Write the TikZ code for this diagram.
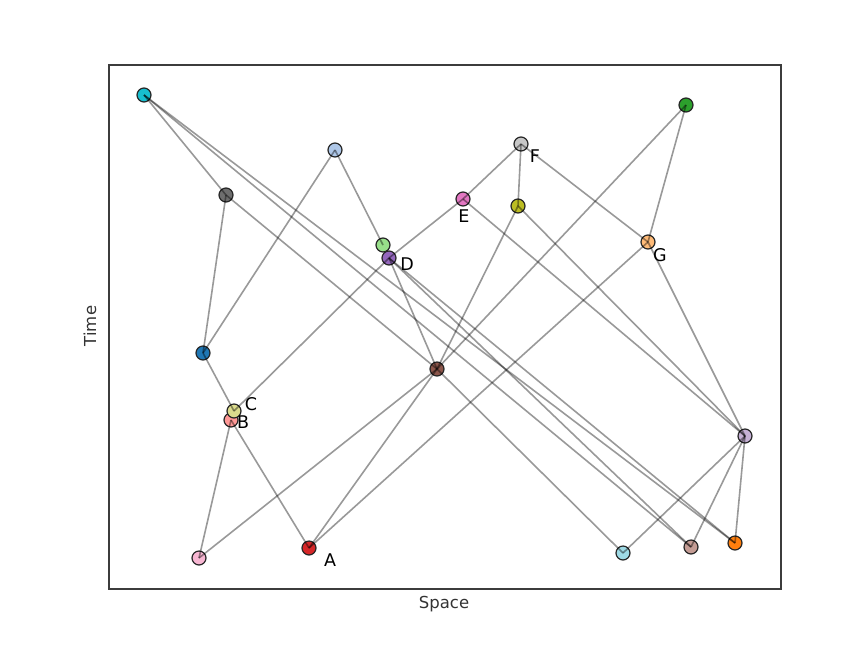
\documentclass[tikz,border=0pt]{standalone}
\usepackage{fontspec}
\setmainfont{DejaVu Sans}
\begin{document}
\begin{tikzpicture}[x=1pt,y=-1pt,
  pt/.style={circle,draw=black!85,line width=1.2pt,minimum size=14pt,inner sep=0pt},
  edge/.style={draw=black,draw opacity=0.4,line width=1.6pt},
  lab/.style={font=\fontsize{17.5}{19}\selectfont,inner sep=0pt}]
\useasboundingbox (0,0) rectangle (867,654);
\definecolor{tBlue}{HTML}{1F77B4}\definecolor{tLBlue}{HTML}{AEC7E8}
\definecolor{tOrange}{HTML}{FF7F0E}\definecolor{tLOrange}{HTML}{FFBB78}
\definecolor{tGreen}{HTML}{2CA02C}\definecolor{tLGreen}{HTML}{98DF8A}
\definecolor{tRed}{HTML}{D62728}\definecolor{tLRed}{HTML}{FF9896}
\definecolor{tPurple}{HTML}{9467BD}\definecolor{tLPurple}{HTML}{C5B0D5}
\definecolor{tBrown}{HTML}{8C564B}\definecolor{tLBrown}{HTML}{C49C94}
\definecolor{tPink}{HTML}{E377C2}\definecolor{tLPink}{HTML}{F7B6D2}
\definecolor{tGray}{HTML}{6E6E6E}\definecolor{tLGray}{HTML}{C7C7C7}
\definecolor{tOlive}{HTML}{BCBD22}\definecolor{tLOlive}{HTML}{DBDB8D}
\definecolor{tCyan}{HTML}{17BECF}\definecolor{tLCyan}{HTML}{9EDAE5}
\definecolor{frameC}{HTML}{3C3C3C}
\draw[frameC,line width=1.4pt] (109,65) rectangle (781,589);
% nodes
\node[pt,fill=tCyan] (cyan) at (144,95) {};
\node[pt,fill=tGray] (gray) at (226,195) {};
\node[pt,fill=tLBlue] (lblue) at (335,150) {};
\node[pt,fill=tLGreen] (lgreen) at (383,245) {};
\node[pt,fill=tPurple] (D) at (389,258) {};
\node[pt,fill=tPink] (E) at (463,199) {};
\node[pt,fill=tLGray] (F) at (521,144) {};
\node[pt,fill=tOlive] (olive) at (518,206) {};
\node[pt,fill=tGreen] (green) at (686,105) {};
\node[pt,fill=tLOrange] (G) at (648,242) {};
\node[pt,fill=tBlue] (blue) at (203,353) {};
\node[pt,fill=tLRed] (B) at (231,420) {};
\node[pt,fill=tLOlive] (C) at (234,411) {};
\node[pt,fill=tBrown] (brown) at (437,369) {};
\node[pt,fill=tLPink] (lpink) at (199,558) {};
\node[pt,fill=tRed] (A) at (309,548) {};
\node[pt,fill=tLCyan] (lcyan) at (623,553) {};
\node[pt,fill=tLBrown] (lbrown) at (691,547) {};
\node[pt,fill=tOrange] (orange) at (735,543) {};
\node[pt,fill=tLPurple] (lpurple) at (745,436) {};
% edges
\foreach \a/\b in {cyan/gray,cyan/orange,cyan/lbrown,gray/blue,gray/brown,
  lblue/blue,lblue/lgreen,blue/C,C/D,D/E,D/brown,D/lbrown,D/orange,E/F,E/lpurple,
  F/olive,F/G,olive/brown,olive/lpurple,green/G,green/brown,G/lpurple,G/A,
  B/lpink,B/A,lpink/brown,A/brown,brown/lcyan,lcyan/lpurple,lbrown/lpurple,orange/lpurple}
  \draw[edge] (\a.center) -- (\b.center);
% labels
\node[lab] (lA) at (330,560) {A};
\node[lab] (lB) at (243,422) {B};
\node[lab] (lC) at (251,404) {C};
\node[lab] (lD) at (407,264) {D};
\node[lab] (lE) at (464,216) {E};
\node[lab] (lF) at (535,156) {F};
\node[lab] (lG) at (660,255) {G};
\node[lab,text=black!80,font=\fontsize{16.5}{18}\selectfont] (xl) at (444,604) {Space};
\node[lab,text=black!80,font=\fontsize{16.5}{18}\selectfont,rotate=90] (yl) at (90,326) {Time};
\end{tikzpicture}
\end{document}
